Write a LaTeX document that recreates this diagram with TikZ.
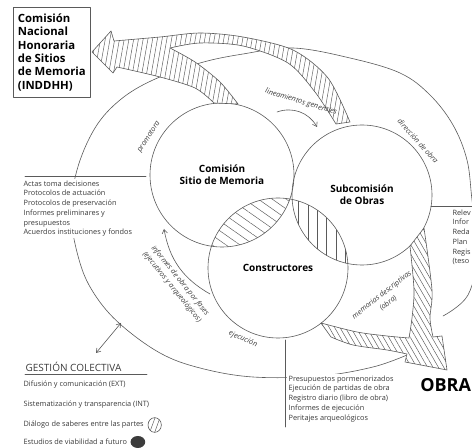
\documentclass[tikz,border=0pt]{standalone}
\usepackage{fontspec}
\setmainfont{Open Sans}
\usetikzlibrary{arrows.meta,patterns.meta}
\definecolor{ink}{HTML}{5A5A5A}
\definecolor{txt}{HTML}{3A3A3A}
\definecolor{dark}{HTML}{3C3C3C}
\tikzset{
  every picture/.style={line join=round, line cap=round, >={Straight Barb[length=3pt,width=4pt]}},
  pen/.style={draw=ink, line width=0.45pt},
  ring/.style={circle, pen, inner sep=0pt, minimum size=#1, align=center, text=black, font=\fontsize{7.5}{9}\selectfont\bfseries},
  hatch/.style={pen, preaction={fill=white}, pattern={Lines[angle=#1,distance=3.5pt,line width=0.35pt]}, pattern color=ink},
  lensfill/.style 2 args={pattern={Lines[angle=#1,distance=#2,line width=0.35pt]}, pattern color=ink},
  arclbl/.style={font=\fontsize{5.5}{7.8}\selectfont\itshape, text=txt, inner sep=1pt, align=center},
  listtxt/.style={font=\fontsize{5.5}{7.3}\selectfont, text=txt, align=left, inner sep=1pt, fill=white},
  legtxt/.style={font=\fontsize{5.5}{7}\selectfont, text=txt, inner sep=1pt, anchor=west},
}
\begin{document}
\begin{tikzpicture}[x=0.75pt,y=-0.75pt]
\clip (0,0) rectangle (472,448);
% centres of the three rings
\coordinate (cm) at (222,175);
\coordinate (so) at (362,195);
\coordinate (cc) at (278,268);

% outer loop
\draw[pen] plot[smooth, tension=0.6] coordinates {(407,355) (373,367) (320,376) (253,377) (200,368) (160,353) (120,324) (95,295) (80,263) (71,215) (77,170) (95,128) (120,100) (153,80) (200,63) (243,54) (293,48) (350,58) (400,73) (430,95) (453,125) (467,160) (472,200) (478,250) (468,295) (443,316)};

% overlaps
\begin{scope}
  \clip (cm) circle[radius=54pt];
  \fill[lensfill={-35}{6pt}] (cc) circle[radius=52.5pt];
\end{scope}
\begin{scope}
  \clip (so) circle[radius=52.5pt];
  \fill[lensfill={90}{7pt}] (cc) circle[radius=52.5pt];
\end{scope}
\begin{scope}
  \clip (cm) circle[radius=54pt];
  \fill[lensfill={-20}{4pt}] (so) circle[radius=52.5pt];
\end{scope}
\begin{scope}
  \clip (cm) circle[radius=54pt];
  \clip (so) circle[radius=52.5pt];
  \fill[dark] (cc) circle[radius=52.5pt];
\end{scope}

% rings
\node[ring=108pt] (csm) at (cm) {Comisión\\Sitio de Memoria};
\node[ring=105pt] (sob) at (so) {Subcomisión\\de Obras};
\node[ring=105pt] (con) at (cc) {Constructores};

% hatched arrow to the national commission
\path[hatch=80] (92,52) -- (111,31) -- (114,41)
  -- plot[smooth] coordinates {(114,41) (160,37) (200,33) (243,37) (293,50) (328,78) (350,122)}
  -- plot[smooth] coordinates {(336,124) (315,92) (288,63) (243,46) (200,43) (170,48)}
  -- plot[smooth] coordinates {(170,48) (195,62) (220,82) (238,104)}
  -- plot[smooth] coordinates {(214,103) (195,88) (160,77) (117,67)}
  -- (113,73) -- cycle;

% hatched arrow to the works
\path[hatch=120] (321,323)
  -- plot[smooth] coordinates {(321,323) (357,332) (387,336) (409,338)}
  -- plot[smooth] coordinates {(409,338) (412,318) (414,290) (410,246)}
  -- plot[smooth] coordinates {(424,228) (432,290) (430,318) (433,337)}
  -- (442,336) -- (447,370) -- (405,362) -- (407,354)
  -- plot[smooth] coordinates {(407,354) (387,350) (353,345) (331,337)} -- cycle;

\node[draw=ink, line width=0.4pt, anchor=north west, align=left, inner xsep=3.5pt, inner ysep=3.5pt,
  minimum width=57pt, minimum height=67.5pt, font=\fontsize{8.5}{10}\selectfont\bfseries] (cnh) at (13,7)
  {Comisión\\Nacional\\Honoraria\\de Sitios\\de Memoria\\(INDDHH)};

% labels on the arcs
\node[arclbl, rotate=-17] (lin) at (301,102) {lineamientos generales};
\node[arclbl, rotate=-48] (dir) at (418,141) {dirección de obra};
\node[arclbl, rotate=57] (pro) at (149,137) {promotora};
\node[arclbl, rotate=-51] (inf) at (176,284) {informes de obra por fases\\(ejecutivos y arqueológicos)};
\node[arclbl, rotate=-23] (eje) at (243,339) {ejecución};
\node[arclbl, rotate=38] (mem) at (385,299) {memorias descriptivas\\(obra)};

\coordinate (la1) at (277,112);
\coordinate (la2) at (317,127);
\draw[pen,->] (la1) to[bend left=40] (la2);
\coordinate (ia1) at (210,294);
\coordinate (ia2) at (164,229);
\draw[pen,->] (ia1) to[bend left=25] (ia2);

% lists
\draw[pen] (25,176) -- (146,176);
\node[listtxt, anchor=north west] (actas) at (22,179)
  {Actas toma decisiones\\Protocolos de actuación\\Protocolos de preservación\\Informes preliminares y\\presupuestos\\Acuerdos instituciones y fondos};
\draw[pen] (431,206) -- (472,206);
\node[listtxt, anchor=north west] (relev) at (451,208) {Relev\\Infor\\Reda\\Plan\\Regis\\(teso};
\draw[pen] (285,340) -- (285,427);
\node[listtxt, anchor=north west] (presu) at (287,374)
  {Presupuestos pormenorizados\\Ejecución de partidas de obra\\Registro diario (libro de obra)\\Informes de ejecución\\Peritajes arqueológicos};
\node[font=\fontsize{13.5}{15}\selectfont\bfseries, anchor=west, inner sep=0pt] (obra) at (420,385) {OBRA};

% gestion colectiva
\coordinate (ga) at (96,353);
\coordinate (gb) at (121,323);
\draw[pen,<->] (ga) -- (gb);
\node[font=\fontsize{7.5}{9}\selectfont, text=txt, anchor=west, inner sep=1pt] (gest) at (24,367) {GESTIÓN COLECTIVA};
\draw[pen] (25,374) -- (147,374);
\node[legtxt] (difu) at (22,385) {Difusión y comunicación (EXT)};
\node[legtxt] (sist) at (22,405) {Sistematización y transparencia (INT)};
\node[legtxt] (dial) at (22,425) {Diálogo de saberes entre las partes};
\node[legtxt] (estu) at (22,442) {Estudios de viabilidad a futuro};
\path[hatch=70] ([xshift=7pt]dial.east) ellipse[x radius=5pt, y radius=5.5pt];
\fill[dark] ([xshift=7pt]estu.east) ellipse[x radius=5.5pt, y radius=4.5pt];
\end{tikzpicture}
\end{document}
